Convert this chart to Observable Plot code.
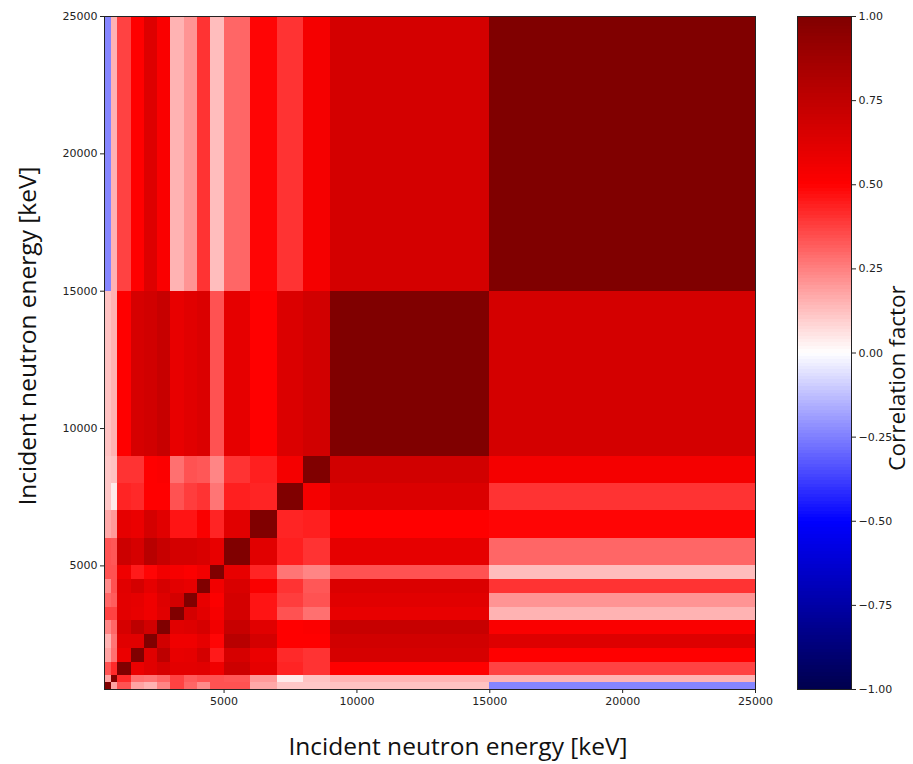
<!DOCTYPE html>
<html><head><meta charset="utf-8">
<script src="https://cdn.jsdelivr.net/npm/d3@7"></script>
<script src="https://cdn.jsdelivr.net/npm/@observablehq/plot@0.6"></script>
<style>
body{margin:0;background:#fff}
#wrap{position:relative;width:913px;height:764px;overflow:hidden}
#wrap svg{position:absolute;top:0}
</style></head><body><div id="wrap"></div>
<script>
// Energy bin edges [keV]
const edges = [500, 750, 1000, 1500, 2000, 2500, 3000, 3500, 4000, 4500, 5000, 6000, 7000, 8000, 9000, 15000, 25000];
// Correlation matrix (row i = y bin i, column j = x bin j)
const corr = [
  [1.00, 0.18, 0.34, 0.18, 0.15, 0.24, 0.37, 0.30, 0.23, 0.34, 0.34, 0.17, 0.11, 0.11, 0.12, -0.24],
  [0.18, 1.00, 0.42, 0.28, 0.27, 0.30, 0.37, 0.32, 0.34, 0.34, 0.33, 0.20, 0.04, 0.12, 0.15, 0.15],
  [0.34, 0.42, 1.00, 0.58, 0.62, 0.66, 0.61, 0.61, 0.62, 0.56, 0.70, 0.60, 0.43, 0.40, 0.50, 0.37],
  [0.18, 0.28, 0.58, 1.00, 0.62, 0.76, 0.59, 0.60, 0.67, 0.45, 0.66, 0.58, 0.42, 0.40, 0.66, 0.50],
  [0.15, 0.27, 0.62, 0.62, 1.00, 0.68, 0.56, 0.56, 0.60, 0.49, 0.78, 0.67, 0.50, 0.50, 0.68, 0.63],
  [0.24, 0.30, 0.66, 0.76, 0.68, 1.00, 0.62, 0.63, 0.66, 0.55, 0.72, 0.62, 0.50, 0.51, 0.72, 0.52],
  [0.37, 0.37, 0.61, 0.59, 0.56, 0.62, 1.00, 0.67, 0.61, 0.53, 0.67, 0.46, 0.34, 0.28, 0.59, 0.15],
  [0.30, 0.32, 0.61, 0.60, 0.56, 0.63, 0.67, 1.00, 0.59, 0.51, 0.67, 0.46, 0.38, 0.34, 0.62, 0.21],
  [0.23, 0.34, 0.62, 0.67, 0.60, 0.66, 0.61, 0.59, 1.00, 0.55, 0.65, 0.52, 0.40, 0.33, 0.64, 0.40],
  [0.34, 0.34, 0.56, 0.45, 0.49, 0.55, 0.53, 0.51, 0.55, 1.00, 0.59, 0.43, 0.27, 0.24, 0.34, 0.13],
  [0.34, 0.33, 0.70, 0.66, 0.78, 0.72, 0.67, 0.67, 0.65, 0.59, 1.00, 0.62, 0.44, 0.40, 0.60, 0.30],
  [0.17, 0.20, 0.60, 0.58, 0.67, 0.62, 0.46, 0.46, 0.52, 0.43, 0.62, 1.00, 0.43, 0.44, 0.50, 0.49],
  [0.11, 0.04, 0.43, 0.42, 0.50, 0.50, 0.34, 0.38, 0.40, 0.27, 0.44, 0.43, 1.00, 0.54, 0.64, 0.40],
  [0.11, 0.12, 0.40, 0.40, 0.50, 0.51, 0.28, 0.34, 0.33, 0.24, 0.40, 0.44, 0.54, 1.00, 0.68, 0.54],
  [0.12, 0.15, 0.50, 0.66, 0.68, 0.72, 0.59, 0.62, 0.64, 0.34, 0.60, 0.50, 0.64, 0.68, 1.00, 0.67],
  [-0.24, 0.15, 0.37, 0.50, 0.63, 0.52, 0.15, 0.21, 0.40, 0.13, 0.30, 0.49, 0.40, 0.54, 0.67, 1.00]
];
const axisTicks = [5000, 10000, 15000, 20000, 25000];
const cbarTicks = [-1, -0.75, -0.5, -0.25, 0, 0.25, 0.5, 0.75, 1];
const seismicStops = [-1, -0.5, 0, 0.5, 1];
const seismicColors = ["rgb(0,0,77)", "rgb(0,0,255)", "rgb(255,255,255)", "rgb(255,0,0)", "rgb(128,0,0)"];
const axisLabel = "Incident neutron energy [keV]";
const cbarLabel = "Correlation factor";

const cells = [];
corr.forEach((row, i) => row.forEach((v, j) =>
  cells.push({x1: edges[j], x2: edges[j + 1], y1: edges[i], y2: edges[i + 1], v})));

const color = {type: "linear", domain: seismicStops, range: seismicColors, interpolate: "rgb"};
const fmt = d3.format("d");
const tickStyle = {fontFamily: "DejaVu Sans", fontSize: 11, fill: "#222"};
const labelStyle = {fontSize: 24.5, fontFamily: "Open Sans", fill: "#111", textAnchor: "middle", lineAnchor: "middle"};

const main = Plot.plot({
  width: 913, height: 764,
  marginLeft: 104, marginRight: 158, marginTop: 16, marginBottom: 75,
  style: {fontFamily: "DejaVu Sans", fontSize: "11px", color: "#222", background: "transparent"},
  x: {domain: [500, 25000]},
  y: {domain: [500, 25000]},
  color,
  marks: [
    Plot.rect(cells, {x1: "x1", x2: "x2", y1: "y1", y2: "y2", fill: "v", shapeRendering: "crispEdges"}),
    Plot.frame({stroke: "#222", strokeWidth: 1}),
    Plot.axisX({ticks: axisTicks, tickFormat: fmt, tickSize: 4, tickPadding: 4, label: null, stroke: "#222", ...tickStyle}),
    Plot.axisY({ticks: axisTicks, tickFormat: fmt, tickSize: 4, tickPadding: 3, label: null, stroke: "#222", ...tickStyle}),
    Plot.text([axisLabel], {frameAnchor: "bottom", dx: 28, dy: 58, ...labelStyle}),
    Plot.text([axisLabel], {frameAnchor: "left", dx: -76, dy: -17, rotate: -90, ...labelStyle})
  ]
});

const steps = d3.range(-1, 1, 0.01);
const cbar = Plot.plot({
  width: 143, height: 764,
  marginLeft: 27, marginRight: 62, marginTop: 16, marginBottom: 75,
  style: {fontFamily: "DejaVu Sans", fontSize: "11px", color: "#222", background: "transparent"},
  x: {axis: null},
  y: {domain: [-1, 1]},
  color,
  marks: [
    Plot.rect(steps, {y1: d => d, y2: d => d + 0.0101, fill: d => d + 0.005, shapeRendering: "crispEdges"}),
    Plot.frame({stroke: "#222", strokeWidth: 1}),
    Plot.axisY({anchor: "right", ticks: cbarTicks, tickFormat: d3.format(".2f"), tickSize: 4, tickPadding: 3, label: null, stroke: "#222", ...tickStyle}),
    Plot.text([cbarLabel], {frameAnchor: "right", dx: 46, dy: 25, rotate: -90, ...labelStyle, fontSize: 22.5})
  ]
});
cbar.style.left = "770px";
main.style.left = "0px";
const wrap = document.getElementById("wrap");
wrap.appendChild(main);
wrap.appendChild(cbar);
</script>
</body></html>
